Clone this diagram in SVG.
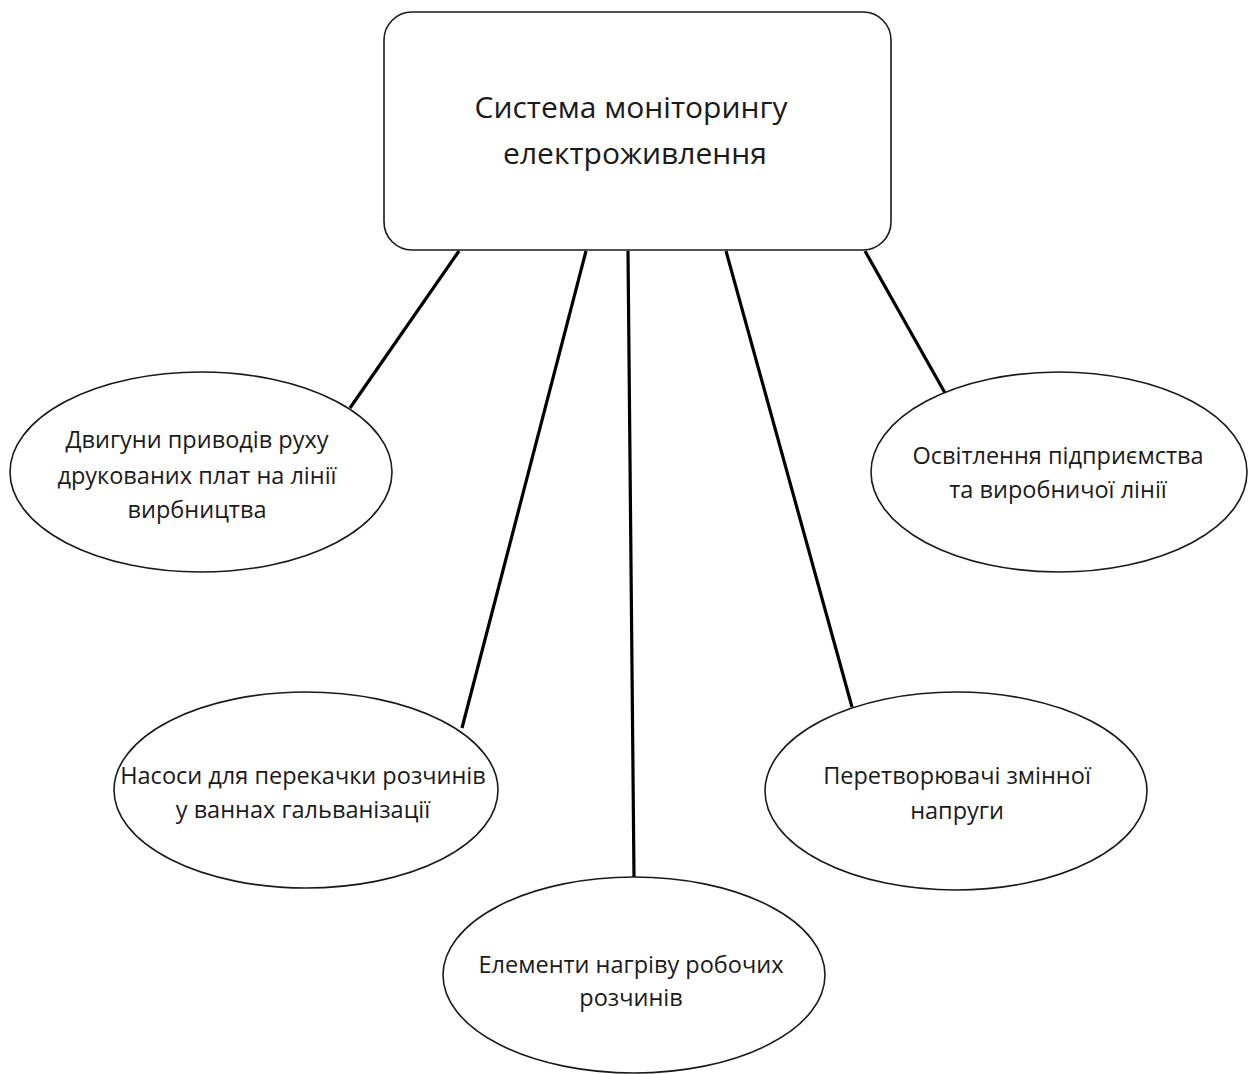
<svg xmlns="http://www.w3.org/2000/svg" width="1253" height="1074" viewBox="0 0 1253 1074">
<style>
.node{fill:#ffffff;stroke:#1a1a1a;stroke-width:1.6}
.lbl{font-family:"Open Sans","Noto Sans","Liberation Sans",sans-serif;font-size:23.5px;fill:#1a1a1a;text-anchor:middle}
.big{font-size:30px}
.conn line{stroke:#000000;stroke-width:3.2;stroke-linecap:butt}
</style>
<rect width="1253" height="1074" fill="#ffffff"/>
<g id="connectors" class="conn">
<line x1="459" y1="251" x2="350" y2="408"/>
<line x1="586" y1="251" x2="462" y2="728"/>
<line x1="628" y1="251" x2="634" y2="877"/>
<line x1="726" y1="251" x2="852" y2="707"/>
<line x1="865" y1="251" x2="945" y2="393"/>
</g>
<g id="root">
<rect class="node" x="384" y="12" width="507" height="238" rx="28" ry="28"/>
<text class="lbl big" x="631" y="118">Система моніторингу</text>
<text class="lbl big" x="635" y="164">електроживлення</text>
</g>
<g id="motors">
<ellipse class="node" cx="201" cy="472" rx="191" ry="100"/>
<text class="lbl" x="197" y="448">Двигуни приводів руху</text>
<text class="lbl" x="197" y="484">друкованих плат на лінії</text>
<text class="lbl" x="197" y="518">вирбництва</text>
</g>
<g id="pumps">
<ellipse class="node" cx="306" cy="790" rx="192" ry="98"/>
<text class="lbl" x="303" y="784">Насоси для перекачки розчинів</text>
<text class="lbl" x="303" y="818">у ваннах гальванізації</text>
</g>
<g id="heaters">
<ellipse class="node" cx="634" cy="975" rx="191" ry="98"/>
<text class="lbl" x="631" y="973">Елементи нагріву робочих</text>
<text class="lbl" x="631" y="1006">розчинів</text>
</g>
<g id="converters">
<ellipse class="node" cx="956" cy="791" rx="191" ry="99"/>
<text class="lbl" x="957" y="784">Перетворювачі змінної</text>
<text class="lbl" x="957" y="819">напруги</text>
</g>
<g id="lighting">
<ellipse class="node" cx="1059" cy="472" rx="188" ry="100"/>
<text class="lbl" x="1058" y="464">Освітлення підприємства</text>
<text class="lbl" x="1058" y="498">та виробничої лінії</text>
</g>
</svg>
